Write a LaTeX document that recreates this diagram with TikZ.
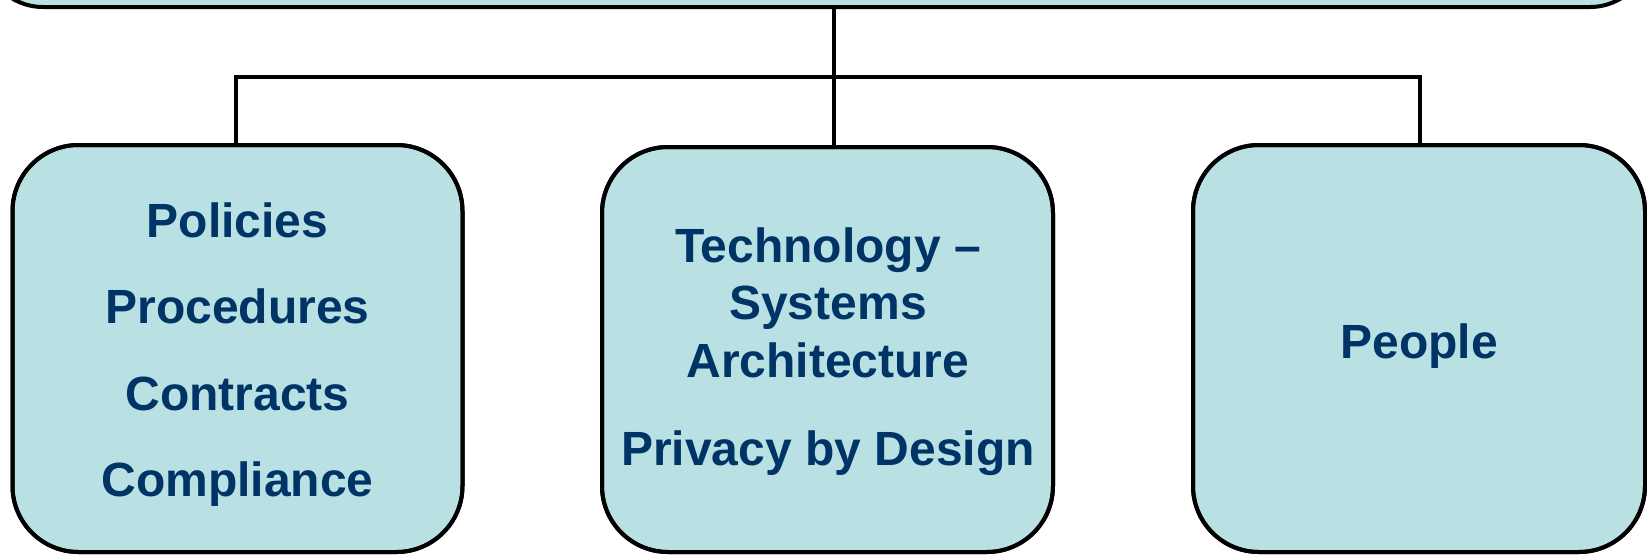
\documentclass[tikz,border=0pt]{standalone}
\usepackage{fontspec}
\setmainfont{Liberation Sans}
\definecolor{boxfill}{RGB}{185,224,227}
\definecolor{txtblue}{RGB}{0,51,102}
\begin{document}
\begin{tikzpicture}[x=1pt,y=-1pt,
  box/.style={draw=black, line width=4pt, fill=boxfill, rounded corners=66pt,
    inner sep=0pt, outer sep=0pt},
  conn/.style={draw=black, line width=3.6pt},
  lbl/.style={anchor=base, inner sep=0pt, text=txtblue,
    font=\fontsize{48}{57.6}\selectfont\bfseries}]
\useasboundingbox (0,0) rectangle (1647,555);
% boxes
\node[box, rounded corners=60pt, minimum width=1667pt, minimum height=207pt] (top) at (816.5,-96.5) {};
\node[box, minimum width=450pt, minimum height=407pt] (L) at (237.5,348.5) {};
\node[box, minimum width=451pt, minimum height=405pt] (M) at (827.5,349.5) {};
\node[box, minimum width=452pt, minimum height=407pt] (R) at (1419,348.5) {};
% connectors
\coordinate (j) at (834,77);
\draw[conn] (L.north -| 236,0) |- (j) -| (R.north -| 1420,0);
\draw[conn] (top.south -| j) -- (M.north -| j);
% redraw box outlines over connector ends
\draw[box, fill=none] (L.north west) rectangle (L.south east);
\draw[box, fill=none] (M.north west) rectangle (M.south east);
\draw[box, fill=none] (R.north west) rectangle (R.south east);
% texts
\node[lbl] (l1) at (237.5,237) {Policies};
\node[lbl] (l2) at (237.5,323) {Procedures};
\node[lbl] (l3) at (237.5,410) {Contracts};
\node[lbl] (l4) at (237.5,496) {Compliance};
\node[lbl] (m1) at (828,262) {Technology –};
\node[lbl] (m2) at (828,319) {Systems};
\node[lbl] (m3) at (828,377) {Architecture};
\node[lbl] (m4) at (828,465) {Privacy by Design};
\node[lbl] (r1) at (1419,358) {People};
\end{tikzpicture}
\end{document}
